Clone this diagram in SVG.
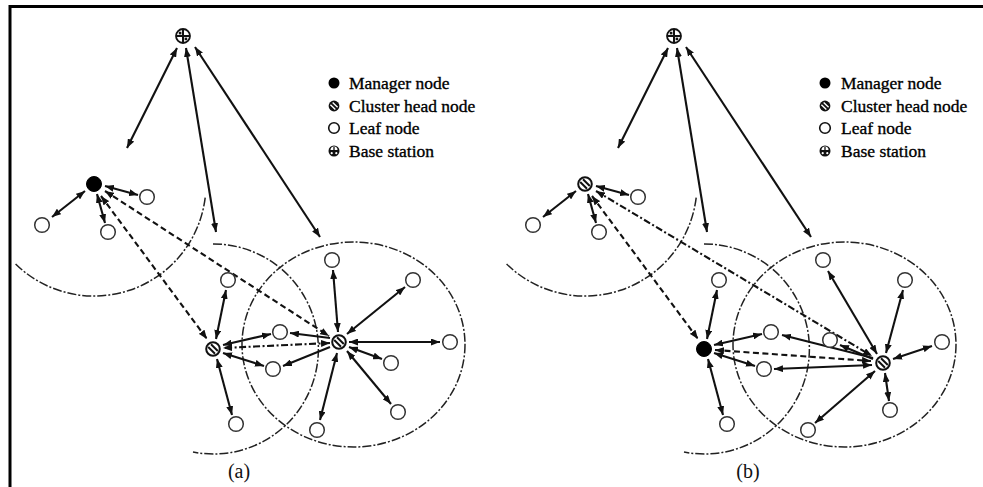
<svg xmlns="http://www.w3.org/2000/svg" width="983" height="487" viewBox="0 0 983 487">
<style>
.leaf{fill:#fff;stroke:#333;stroke-width:1.5}
.mgr{fill:#000;stroke:#000;stroke-width:1}
.ln{fill:none;stroke:#111;stroke-width:2.1;marker-end:url(#ah)}
.ln2{fill:none;stroke:#111;stroke-width:2.1;marker-start:url(#ah);marker-end:url(#ah)}
.dsh{stroke-dasharray:6 3.5}
.dd{stroke-dasharray:7 2.5 2 2.5}
.rng{fill:none;stroke:#222;stroke-width:1.5;stroke-dasharray:9 2 2 2}
.lg{font-family:"Liberation Serif","Times New Roman",serif;font-size:17.5px;fill:#000;stroke:#000;stroke-width:0.35}
.cap{font-family:"Liberation Serif","Times New Roman",serif;font-size:20px;fill:#111}
</style>
<defs>
<marker id="ah" viewBox="0 0 10 10" refX="10" refY="5" markerWidth="9" markerHeight="7" markerUnits="userSpaceOnUse" preserveAspectRatio="none" orient="auto-start-reverse">
<path d="M0,0 L10,5 L0,10 z" fill="#111"/>
</marker>
<g id="chs">
<circle r="6.8" fill="#fff" stroke="#111" stroke-width="2"/>
<path d="M-4.8,-2 L2,4.8 M-2,-4.8 L4.8,2" stroke="#111" stroke-width="2"/>
</g>
<g id="bss">
<circle r="7" fill="#fff" stroke="#111" stroke-width="1.8"/>
<path d="M-6.5,0 H6.5 M0,-6.5 V6.5" stroke="#111" stroke-width="2"/>
<rect x="-4.2" y="-4.2" width="2.6" height="2.6" fill="#111"/>
<rect x="1.6" y="1.6" width="2.6" height="2.6" fill="#111"/>
</g>
</defs>
<rect width="983" height="487" fill="#fff"/>
<path d="M10,500 V6.5 H990" fill="none" stroke="#000" stroke-width="3"/>

<g id="ranges">
<path class="rng" d="M205.2,197.6 A112,112 0 0 1 14.8,263.2"/>
<path class="rng" d="M213,244 A105,105 0 1 1 193,452"/>
<ellipse class="rng" cx="353.5" cy="344.5" rx="111.5" ry="102.5"/>
<path class="rng" d="M696.2,197.6 A112,112 0 0 1 505.8,263.2"/>
<path class="rng" d="M704,244 A105,105 0 1 1 684,452"/>
<ellipse class="rng" cx="844.5" cy="344.5" rx="111.5" ry="102.5"/>
</g>

<g id="connectors">
<!-- panel a -->
<line class="ln2" x1="177" y1="48" x2="127" y2="148"/>
<line class="ln2" x1="186" y1="48" x2="216" y2="232"/>
<line class="ln2" x1="195" y1="47" x2="320" y2="237"/>
<line class="ln2" x1="85" y1="191" x2="52" y2="217"/>
<line class="ln2" x1="105" y1="186" x2="138" y2="195"/>
<line class="ln2" x1="97" y1="194" x2="105" y2="223"/>
<line class="ln2 dsh" x1="101" y1="196" x2="207" y2="339"/>
<line class="ln2 dsh" x1="105" y1="191" x2="329" y2="336"/>
<line class="ln2" x1="226" y1="290" x2="216" y2="339"/>
<line class="ln2" x1="217" y1="359" x2="232" y2="415"/>
<line class="ln2" x1="223" y1="345" x2="271" y2="334"/>
<line class="ln2" x1="223" y1="353" x2="264" y2="366"/>
<line class="ln2 dd" x1="330" y1="343" x2="223" y2="348"/>
<line class="ln" x1="330" y1="338" x2="290" y2="333"/>
<line class="ln" x1="330" y1="347" x2="283" y2="366"/>
<line class="ln2" x1="333" y1="270" x2="338" y2="332"/>
<line class="ln2" x1="405" y1="287" x2="347" y2="334"/>
<line class="ln2" x1="349" y1="342" x2="440" y2="342"/>
<line class="ln2" x1="349" y1="347" x2="382" y2="359"/>
<line class="ln2" x1="347" y1="351" x2="391" y2="404"/>
<line class="ln2" x1="337" y1="353" x2="320" y2="420"/>
<!-- panel b -->
<line class="ln2" x1="668" y1="48" x2="618" y2="148"/>
<line class="ln2" x1="677" y1="48" x2="707" y2="232"/>
<line class="ln2" x1="686" y1="47" x2="811" y2="237"/>
<line class="ln2" x1="576" y1="191" x2="543" y2="217"/>
<line class="ln2" x1="596" y1="186" x2="629" y2="195"/>
<line class="ln2" x1="588" y1="194" x2="596" y2="223"/>
<line class="ln2 dsh" x1="592" y1="196" x2="698" y2="339"/>
<line class="ln2 dd" x1="596" y1="191" x2="872" y2="356"/>
<line class="ln2" x1="717" y1="290" x2="707" y2="339"/>
<line class="ln2" x1="708" y1="359" x2="723" y2="415"/>
<line class="ln2" x1="714" y1="345" x2="762" y2="334"/>
<line class="ln2" x1="714" y1="353" x2="755" y2="366"/>
<line class="ln2 dsh" x1="715" y1="350" x2="871" y2="361"/>
<line class="ln" x1="873" y1="358" x2="782" y2="335"/>
<line class="ln" x1="873" y1="359" x2="840" y2="345"/>
<line class="ln2" x1="774" y1="369" x2="872" y2="365"/>
<line class="ln2" x1="828" y1="271" x2="877" y2="354"/>
<line class="ln2" x1="903" y1="290" x2="886" y2="353"/>
<line class="ln2" x1="893" y1="359" x2="932" y2="346"/>
<line class="ln2" x1="885" y1="373" x2="889" y2="401"/>
<line class="ln2" x1="875" y1="371" x2="815" y2="423"/>
</g>

<!-- panel a nodes -->
<g id="bs-a"><use href="#bss" x="183" y="36"/></g>
<g id="mgr-a"><circle class="mgr" cx="94" cy="184" r="7.5"/></g>
<g id="a-leaf1"><circle class="leaf" cx="42" cy="225" r="7.3"/></g>
<g id="a-leaf2"><circle class="leaf" cx="147" cy="197" r="7.3"/></g>
<g id="a-leaf3"><circle class="leaf" cx="108" cy="232" r="7.3"/></g>
<g id="ch1-a"><use href="#chs" x="213" y="349"/></g>
<g id="ch2-a"><use href="#chs" x="339" y="342"/></g>
<g id="a-leaf4"><circle class="leaf" cx="228" cy="280" r="7.3"/></g>
<g id="a-leaf5"><circle class="leaf" cx="236" cy="424" r="7.3"/></g>
<g id="a-leaf6"><circle class="leaf" cx="280" cy="332" r="7.3"/></g>
<g id="a-leaf7"><circle class="leaf" cx="273" cy="369" r="7.3"/></g>
<g id="a-leaf8"><circle class="leaf" cx="332" cy="260" r="7.3"/></g>
<g id="a-leaf9"><circle class="leaf" cx="413" cy="280" r="7.3"/></g>
<g id="a-leaf10"><circle class="leaf" cx="450" cy="342" r="7.3"/></g>
<g id="a-leaf11"><circle class="leaf" cx="391" cy="363" r="7.3"/></g>
<g id="a-leaf12"><circle class="leaf" cx="398" cy="412" r="7.3"/></g>
<g id="a-leaf13"><circle class="leaf" cx="317" cy="430" r="7.3"/></g>

<!-- panel b nodes -->
<g id="bs-b"><use href="#bss" x="674" y="36"/></g>
<g id="ch1-b"><use href="#chs" x="585" y="184"/></g>
<g id="b-leaf1"><circle class="leaf" cx="533" cy="225" r="7.3"/></g>
<g id="b-leaf2"><circle class="leaf" cx="638" cy="197" r="7.3"/></g>
<g id="b-leaf3"><circle class="leaf" cx="599" cy="232" r="7.3"/></g>
<g id="mgr-b"><circle class="mgr" cx="704" cy="349" r="7.5"/></g>
<g id="ch2-b"><use href="#chs" x="883" y="363"/></g>
<g id="b-leaf4"><circle class="leaf" cx="719" cy="280" r="7.3"/></g>
<g id="b-leaf5"><circle class="leaf" cx="727" cy="424" r="7.3"/></g>
<g id="b-leaf6"><circle class="leaf" cx="771" cy="332" r="7.3"/></g>
<g id="b-leaf7"><circle class="leaf" cx="764" cy="369" r="7.3"/></g>
<g id="b-leaf8"><circle class="leaf" cx="823" cy="260" r="7.3"/></g>
<g id="b-leaf9"><circle class="leaf" cx="905" cy="280" r="7.3"/></g>
<g id="b-leaf10"><circle class="leaf" cx="942" cy="342" r="7.3"/></g>
<g id="b-leaf11"><circle class="leaf" cx="830" cy="340" r="7.3"/></g>
<g id="b-leaf12"><circle class="leaf" cx="890" cy="410" r="7.3"/></g>
<g id="b-leaf13"><circle class="leaf" cx="808" cy="430" r="7.3"/></g>

<!-- legends -->
<g id="legend-a">
<circle cx="334" cy="83" r="5.5" fill="#000"/>
<text class="lg" x="349" y="89">Manager node</text>
<g transform="translate(334,106) scale(0.9)"><circle r="6" fill="#111"/><path d="M-4,-1.5 L1.5,4 M-1.5,-4 L4,1.5" stroke="#fff" stroke-width="1.5"/></g>
<text class="lg" x="349" y="112">Cluster head node</text>
<circle cx="334" cy="128" r="5.3" fill="#fff" stroke="#111" stroke-width="1.6"/>
<text class="lg" x="349" y="134">Leaf node</text>
<g transform="translate(334,151)"><circle r="5.5" fill="#111"/><path d="M-3.5,-1 A3.5,3.5 0 0 1 3.5,-1 Z" fill="#fff"/><path d="M0,-4 V-1" stroke="#111" stroke-width="1.3"/><circle cx="-2.3" cy="2.2" r="1.1" fill="#fff"/><circle cx="2.3" cy="2.2" r="1.1" fill="#fff"/></g>
<text class="lg" x="349" y="157">Base station</text>
</g>
<g id="legend-b">
<circle cx="825" cy="83" r="5.5" fill="#000"/>
<text class="lg" x="841" y="89">Manager node</text>
<g transform="translate(825,106) scale(0.9)"><circle r="6" fill="#111"/><path d="M-4,-1.5 L1.5,4 M-1.5,-4 L4,1.5" stroke="#fff" stroke-width="1.5"/></g>
<text class="lg" x="841" y="112">Cluster head node</text>
<circle cx="825" cy="128" r="5.3" fill="#fff" stroke="#111" stroke-width="1.6"/>
<text class="lg" x="841" y="134">Leaf node</text>
<g transform="translate(825,151)"><circle r="5.5" fill="#111"/><path d="M-3.5,-1 A3.5,3.5 0 0 1 3.5,-1 Z" fill="#fff"/><path d="M0,-4 V-1" stroke="#111" stroke-width="1.3"/><circle cx="-2.3" cy="2.2" r="1.1" fill="#fff"/><circle cx="2.3" cy="2.2" r="1.1" fill="#fff"/></g>
<text class="lg" x="841" y="157">Base station</text>
</g>

<text class="cap" x="239" y="478" text-anchor="middle">(a)</text>
<text class="cap" x="748" y="478" text-anchor="middle">(b)</text>
</svg>
